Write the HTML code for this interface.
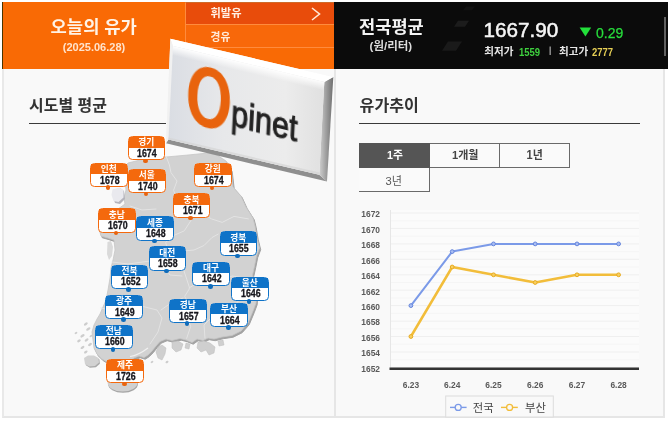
<!DOCTYPE html>
<html lang="ko"><head><meta charset="utf-8"><title>Opinet</title>
<style>
html,body{margin:0;padding:0;background:#fff;}
body{width:670px;height:421px;overflow:hidden;position:relative;font-family:"Liberation Sans",sans-serif;}
#w{position:absolute;left:0;top:0;width:670px;height:421px;overflow:hidden;filter:blur(.45px);}
#w *{position:absolute;box-sizing:border-box;}
#lp{left:2px;top:69px;width:332px;height:349px;background:#f9f9f9;border-left:2px solid #e9e9e9;border-bottom:2px solid #e6e6e6;}
#rp{left:334px;top:69px;width:331px;height:349px;background:#f9f9f9;border-left:2px solid #e6e6e6;border-right:2px solid #e6e6e6;border-bottom:2px solid #e6e6e6;}
#oh{left:2.3px;top:2px;width:332px;height:67px;background:#f96a05;border-left:1px solid #4a3500;}
#m1{left:185px;top:2px;width:149.5px;height:22.5px;background:#e84c0b;border-left:1.5px solid #ff8b3d;border-top:1px solid #cf6a2a;}
#m2{left:185px;top:24px;width:149.5px;height:23.5px;background:#f8680a;border-left:1.5px solid #ff8b3d;border-top:1.3px solid #ff8b3d;}
#m3{left:185px;top:47px;width:149.5px;height:22px;background:#f96a05;border-left:1.5px solid #ff8b3d;border-top:1.3px solid #ff8b3d;}
#bh{left:334.3px;top:2px;width:333.7px;height:67px;background:#0b0b0b;}
.date{left:40px;top:40.5px;width:108px;text-align:center;font-size:11px;font-weight:bold;color:#ffe3cc;line-height:13px;}
.big{left:483.4px;top:17px;font-size:20.7px;color:#f6f6f6;line-height:26px;-webkit-text-stroke:.5px #f6f6f6;}
.chg{left:596px;top:24.5px;font-size:14px;color:#27dc3c;line-height:16px;-webkit-text-stroke:.25px #27dc3c;}
.sm{font-size:10.8px;font-weight:bold;line-height:12px;top:45.6px;transform:scaleX(.88);transform-origin:0 0;}
.ul{height:1.4px;background:#3a3a3a;top:123px;}
.tab{height:24.6px;border:1px solid #6a6a6a;background:#fafafa;}
.tt{font-size:10.5px;font-weight:bold;line-height:12px;}
.yl{left:356px;width:24px;text-align:right;font-size:8.4px;font-weight:bold;color:#5a5a5a;line-height:10px;}
.xl{top:380px;width:24px;text-align:center;font-size:8.4px;font-weight:bold;color:#5a5a5a;line-height:10px;}
.lb{width:37.6px;height:24.4px;border-radius:4.5px;background:#fff;border:1.6px solid;}
.lb.o{border-color:#f4690d;} .lb.b{border-color:#0f73c8;}
.lb i{left:0;top:0;width:100%;height:10.5px;}
.lb.o i{background:#f4690d;} .lb.b i{background:#0f73c8;}
.lb b{left:.9px;top:10.9px;width:100%;text-align:center;font-size:10px;line-height:11px;color:#16161c;transform:scaleX(.88);-webkit-text-stroke:.3px #16161c;}
.lb u{left:14.7px;top:21.6px;width:4.6px;height:4.6px;border-radius:50%;}
.lb.o u{background:#e8640f;} .lb.b u{background:#0f6cbb;}
svg{left:0;top:0;overflow:visible;}
#slab{left:0;top:0;width:670px;height:421px;}
</style></head><body><div id="w">
<div id="lp"></div><div id="rp"></div>
<div id="oh"></div><div id="m1"></div><div id="m2"></div><div id="m3"></div>
<div id="bh"></div>
<svg width="670" height="421" viewBox="0 0 670 421">
<g fill="#1a1a1a"><path d="M466,6.5 l9,0 l-3,3.8 l-9,0z" fill="#131313"/><path d="M458,20.8 l11,0 l-4,6 l-11,0z" fill="#1c1c1c"/><path d="M448,41.6 l14,0 l-6,9.2 l-14,0z"/></g>
<path d="M312,8 l7.5,6 l-7.5,6" fill="none" stroke="#ffe9d8" stroke-width="1.6"/>
<path d="M579.6,27.6 h11.6 l-5.8,9z" fill="#22e03a"/>
<rect x="664.2" y="17" width="1.6" height="39" fill="#767676"/>
<rect x="549.6" y="46.5" width="1.1" height="8.5" fill="#bbb"/>
</svg>
<div class="date">(2025.06.28)</div>
<div class="big">1667.90</div>
<div class="chg">0.29</div>
<span class="sm" style="left:518.6px;color:#3fd13f">1559</span>
<span class="sm" style="left:592.2px;color:#e6cf55">2777</span>
<div class="ul" style="left:28.5px;width:137px"></div>
<div class="ul" style="left:358.5px;width:281px"></div>
<div class="tab" style="left:358.5px;top:143.4px;width:71.5px;background:#555;border-color:#555"></div>
<div class="tab" style="left:429.5px;top:143.4px;width:70px;border-left:none"></div>
<div class="tab" style="left:499px;top:143.4px;width:70.8px"></div>
<div class="tab" style="left:358.5px;top:167.6px;width:71px;border-left:none;border-top:none"></div>
<svg width="670" height="421" viewBox="0 0 670 421">
<rect x="390" y="210" width="249" height="158" fill="#fbfbfb"/>
<line x1="390" x2="639" y1="367.4" y2="367.4" stroke="#efefef" stroke-width="1"/>
<line x1="390" x2="639" y1="359.7" y2="359.7" stroke="#f5f5f5" stroke-width="1"/>
<line x1="390" x2="639" y1="352.0" y2="352.0" stroke="#efefef" stroke-width="1"/>
<line x1="390" x2="639" y1="344.2" y2="344.2" stroke="#f5f5f5" stroke-width="1"/>
<line x1="390" x2="639" y1="336.5" y2="336.5" stroke="#efefef" stroke-width="1"/>
<line x1="390" x2="639" y1="328.8" y2="328.8" stroke="#f5f5f5" stroke-width="1"/>
<line x1="390" x2="639" y1="321.1" y2="321.1" stroke="#efefef" stroke-width="1"/>
<line x1="390" x2="639" y1="313.4" y2="313.4" stroke="#f5f5f5" stroke-width="1"/>
<line x1="390" x2="639" y1="305.6" y2="305.6" stroke="#efefef" stroke-width="1"/>
<line x1="390" x2="639" y1="297.9" y2="297.9" stroke="#f5f5f5" stroke-width="1"/>
<line x1="390" x2="639" y1="290.2" y2="290.2" stroke="#efefef" stroke-width="1"/>
<line x1="390" x2="639" y1="282.5" y2="282.5" stroke="#f5f5f5" stroke-width="1"/>
<line x1="390" x2="639" y1="274.8" y2="274.8" stroke="#efefef" stroke-width="1"/>
<line x1="390" x2="639" y1="267.0" y2="267.0" stroke="#f5f5f5" stroke-width="1"/>
<line x1="390" x2="639" y1="259.3" y2="259.3" stroke="#efefef" stroke-width="1"/>
<line x1="390" x2="639" y1="251.6" y2="251.6" stroke="#f5f5f5" stroke-width="1"/>
<line x1="390" x2="639" y1="243.9" y2="243.9" stroke="#efefef" stroke-width="1"/>
<line x1="390" x2="639" y1="236.2" y2="236.2" stroke="#f5f5f5" stroke-width="1"/>
<line x1="390" x2="639" y1="228.4" y2="228.4" stroke="#efefef" stroke-width="1"/>
<line x1="390" x2="639" y1="220.7" y2="220.7" stroke="#f5f5f5" stroke-width="1"/>
<line x1="390" x2="639" y1="213.0" y2="213.0" stroke="#efefef" stroke-width="1"/>
<line x1="390.5" x2="390.5" y1="210" y2="368" stroke="#e6e6e6" stroke-width="1"/>
<polyline points="410.9,336.5 452.2,267.0 493.5,274.8 535.2,282.5 577.0,274.8 618.6,274.8" fill="none" stroke="#f2bd3a" stroke-width="2.5" stroke-linejoin="round"/>
<polyline points="410.9,305.6 452.2,251.6 493.5,243.9 535.2,243.9 577.0,243.9 618.6,243.9" fill="none" stroke="#7b9ae8" stroke-width="2.0" stroke-linejoin="round"/>
<circle cx="410.9" cy="336.5" r="1.9" fill="#f6cf63" stroke="#e9ab1f" stroke-width="1"/>
<circle cx="452.2" cy="267.0" r="1.9" fill="#f6cf63" stroke="#e9ab1f" stroke-width="1"/>
<circle cx="493.5" cy="274.8" r="1.9" fill="#f6cf63" stroke="#e9ab1f" stroke-width="1"/>
<circle cx="535.2" cy="282.5" r="1.9" fill="#f6cf63" stroke="#e9ab1f" stroke-width="1"/>
<circle cx="577.0" cy="274.8" r="1.9" fill="#f6cf63" stroke="#e9ab1f" stroke-width="1"/>
<circle cx="618.6" cy="274.8" r="1.9" fill="#f6cf63" stroke="#e9ab1f" stroke-width="1"/>
<circle cx="410.9" cy="305.6" r="1.9" fill="#a9bdf2" stroke="#6585dc" stroke-width="1"/>
<circle cx="452.2" cy="251.6" r="1.9" fill="#a9bdf2" stroke="#6585dc" stroke-width="1"/>
<circle cx="493.5" cy="243.9" r="1.9" fill="#a9bdf2" stroke="#6585dc" stroke-width="1"/>
<circle cx="535.2" cy="243.9" r="1.9" fill="#a9bdf2" stroke="#6585dc" stroke-width="1"/>
<circle cx="577.0" cy="243.9" r="1.9" fill="#a9bdf2" stroke="#6585dc" stroke-width="1"/>
<circle cx="618.6" cy="243.9" r="1.9" fill="#a9bdf2" stroke="#6585dc" stroke-width="1"/>
<line x1="389.5" x2="639" y1="368.7" y2="368.7" stroke="#333" stroke-width="2.6"/>
<rect x="445.7" y="396" width="107.6" height="21" fill="#f9f9f9" stroke="#dcdcdc" stroke-width="1"/>
<line x1="450" x2="466.6" y1="407.4" y2="407.4" stroke="#7b9ae8" stroke-width="1.4"/><circle cx="458.2" cy="407.4" r="3" fill="#f9f9f9" stroke="#7b9ae8" stroke-width="1.3"/>
<line x1="501" x2="517.8" y1="407.4" y2="407.4" stroke="#f2bd3a" stroke-width="1.4"/><circle cx="509.6" cy="407.4" r="3" fill="#f9f9f9" stroke="#f2bd3a" stroke-width="1.3"/>
</svg>
<span class="yl" style="top:209.3px">1672</span><span class="yl" style="top:224.7px">1670</span><span class="yl" style="top:240.2px">1668</span><span class="yl" style="top:255.6px">1666</span><span class="yl" style="top:271.0px">1664</span><span class="yl" style="top:286.5px">1662</span><span class="yl" style="top:301.9px">1660</span><span class="yl" style="top:317.3px">1658</span><span class="yl" style="top:332.7px">1656</span><span class="yl" style="top:348.2px">1654</span><span class="yl" style="top:363.6px">1652</span><span class="xl" style="left:398.9px">6.23</span><span class="xl" style="left:440.2px">6.24</span><span class="xl" style="left:481.5px">6.25</span><span class="xl" style="left:523.2px">6.26</span><span class="xl" style="left:565.0px">6.27</span><span class="xl" style="left:606.6px">6.28</span>
<svg width="670" height="421" viewBox="0 0 670 421">

<path d="M128,163 L140,160 L150,158 L166,157 L188,155 L208,153 L217,155 L226,161 L231,170 L233,187 L241,196 L246,207 L253,218 L255,226 L257,238 L259.5,248 L256.5,256 L254.5,266 L252.5,275 L255,285 L256.5,296 L256,303 L253,311 L248,323 L241,331 L232,335.5 L222,337 L214,339 L208,338 L203,340.5 L197,339 L192,342.5 L186,340 L180,338.5 L172,340.5 L166,339 L160,341.5 L156,346 L152,351 L148,355 L144,357.5 L139,356 L134,358 L130,361 L124,364 L116,364 L108,362.5 L102,359 L97,354 L94,348 L93,340 L92,332 L94,325 L97,319 L100,314 L103,307 L106,300 L108,290 L110,278 L111,268 L113,260 L115,250 L114,240 L108,238 L101,236 L99,229 L102,222 L108,214 L118,209 L125,204 L124,198 L126,190 L125,180 L122,170Z" fill="#a3a3a3" transform="translate(1.2,1.7)" stroke="#a3a3a3" stroke-width="1" stroke-linejoin="round"/>
<path d="M128,163 L140,160 L150,158 L166,157 L188,155 L208,153 L217,155 L226,161 L231,170 L233,187 L241,196 L246,207 L253,218 L255,226 L257,238 L259.5,248 L256.5,256 L254.5,266 L252.5,275 L255,285 L256.5,296 L256,303 L253,311 L248,323 L241,331 L232,335.5 L222,337 L214,339 L208,338 L203,340.5 L197,339 L192,342.5 L186,340 L180,338.5 L172,340.5 L166,339 L160,341.5 L156,346 L152,351 L148,355 L144,357.5 L139,356 L134,358 L130,361 L124,364 L116,364 L108,362.5 L102,359 L97,354 L94,348 L93,340 L92,332 L94,325 L97,319 L100,314 L103,307 L106,300 L108,290 L110,278 L111,268 L113,260 L115,250 L114,240 L108,238 L101,236 L99,229 L102,222 L108,214 L118,209 L125,204 L124,198 L126,190 L125,180 L122,170Z" fill="#d2d2d2" stroke="#c6c6c6" stroke-width="0.8" stroke-linejoin="round"/>
<ellipse cx="123" cy="383.8" rx="15" ry="9" fill="#a5a5a5"/>
<ellipse cx="122.6" cy="382.6" rx="15" ry="9" fill="#d0d0d0"/>
<path d="M84,358 L88,355.5 L94,355.5 L98.5,358 L99,362.5 L95,366 L89,366.5 L85,364Z" fill="#a9a9a9" transform="translate(0.9,1.3)"/>
<path d="M84,358 L88,355.5 L94,355.5 L98.5,358 L99,362.5 L95,366 L89,366.5 L85,364Z" fill="#d2d2d2"/>
<path d="M107.5,242 l3.5,-1 l2,6 l-1,9 l-3,4 l-2,-6z" fill="#dadada"/>
<path d="M113,190 l7,-2 l4,3 l1,8 l-5,5 l-5,-1 l-2,-6z" fill="#b4b4bc"/>
<path d="M112.5,189.5 l7,-2 l4,3 l0,7 l-5,4.5 l-5,-1 l-2,-6z" fill="#e9e9ee"/>
<g fill="#cfcfcf" stroke="#bdbdbd" stroke-width=".5"><path d="M158,347 L162,345 L166,348 L165,354 L162,360 L158,358 L156,352Z"/><path d="M172,342 L178,341 L183,344 L181,350 L176,352 L172,348Z"/><path d="M198,342 L204,341 L210,343 L215,347 L214,353 L209,355 L206,350 L201,352 L197,348Z"/><path d="M186,343 L190,344 L189,349 L185,348Z"/><path d="M218,341 L223,340 L224,345 L219,346Z"/></g>
<g fill="#cdcdcd"><ellipse cx="85.8" cy="324" rx="2.2" ry="1.2" transform="rotate(-35 85.8 324)"/><ellipse cx="88.3" cy="329" rx="2.4" ry="1.3" transform="rotate(-35 88.3 329)"/><ellipse cx="82.5" cy="335.8" rx="2.4" ry="1.3" transform="rotate(-35 82.5 335.8)"/><ellipse cx="79" cy="340.8" rx="2.0" ry="1.2" transform="rotate(-35 79 340.8)"/><ellipse cx="86.6" cy="340" rx="2.2" ry="1.2" transform="rotate(-35 86.6 340)"/><ellipse cx="90" cy="344.5" rx="2.2" ry="1.3" transform="rotate(-35 90 344.5)"/><ellipse cx="82.5" cy="347.4" rx="2.2" ry="1.2" transform="rotate(-35 82.5 347.4)"/><ellipse cx="85.8" cy="352" rx="2" ry="1.2" transform="rotate(-35 85.8 352)"/><ellipse cx="91" cy="336" rx="1.6" ry="1" transform="rotate(-35 91 336)"/><ellipse cx="76" cy="333" rx="1.5" ry="1" transform="rotate(-35 76 333)"/><ellipse cx="167" cy="362" rx="1.6" ry="1.1" transform="rotate(-35 167 362)"/><ellipse cx="152" cy="362" rx="1.5" ry="1" transform="rotate(-35 152 362)"/></g>
<path d="M130,356.5 q8,-1 18,-8.5" fill="none" stroke="#f0f0f0" stroke-width="1.2"/>
<g fill="none" stroke="#e3e3e3" stroke-width="1" stroke-linejoin="round" stroke-linecap="round">
<path d="M166.4,157 l3,8 l1.6,7.6 l6,8.4 l-3.5,9.4 l4,8 l12,3 l8,9 l14,8.5 l10.7,3.5 l11.8,-6 l14.4,2.5"/>
<path d="M191.3,220 l-7,10.8 l-10.8,4.8 l-8,7 l4,10"/>
<path d="M130,206 l12,4 l14,-1"/>
<path d="M184,251 l10,-1 l10,-4.5 l8,-8 l6.2,-3.4"/>
<path d="M184,252 l-3,10 l4,12 l4.7,14.3 l-5,8 l5,10 l-3,10 l4,10 l-4,12"/>
<path d="M112,262 l16,2 l22,-3 l14,5 l6,9 l12,1"/>
<path d="M101,308 l18,4 l22,-6 l16,4 l5,8 l-4,14 l-8,12"/>
<path d="M189,288 l13,-8 l16,2 l14,-6 l20,3"/>
<path d="M205,338 l-1,-13 l10,-10 l16,-4 l10,-12 l13,2"/>
<path d="M161,310 l10,-7 l12,-5"/>
</g>

</svg>
<div class="lb o" style="left:127.5px;top:136px"><i></i><b>1674</b><u></u></div><div class="lb o" style="left:90px;top:162.8px"><i></i><b>1678</b><u></u></div><div class="lb o" style="left:128px;top:169px"><i></i><b>1740</b><u></u></div><div class="lb o" style="left:194px;top:163px"><i></i><b>1674</b><u></u></div><div class="lb o" style="left:172.8px;top:193.3px"><i></i><b>1671</b><u></u></div><div class="lb o" style="left:98px;top:208.2px"><i></i><b>1670</b><u></u></div><div class="lb b" style="left:136.3px;top:216.2px"><i></i><b>1648</b><u></u></div><div class="lb b" style="left:219.5px;top:231.3px"><i></i><b>1655</b><u></u></div><div class="lb b" style="left:148.5px;top:246.2px"><i></i><b>1658</b><u></u></div><div class="lb b" style="left:192.4px;top:261.6px"><i></i><b>1642</b><u></u></div><div class="lb b" style="left:110.8px;top:264.6px"><i></i><b>1652</b><u></u></div><div class="lb b" style="left:231.1px;top:276.6px"><i></i><b>1646</b><u></u></div><div class="lb b" style="left:105.3px;top:294.8px"><i></i><b>1649</b><u></u></div><div class="lb b" style="left:169.1px;top:298.7px"><i></i><b>1657</b><u></u></div><div class="lb b" style="left:210.3px;top:302.9px"><i></i><b>1664</b><u></u></div><div class="lb b" style="left:95px;top:324.6px"><i></i><b>1660</b><u></u></div><div class="lb o" style="left:106.4px;top:359px"><i></i><b>1726</b><u></u></div>

<svg width="670" height="421" viewBox="0 0 670 421">
<defs>
<linearGradient id="gf" x1="0" y1="0" x2="1" y2="0"><stop offset="0" stop-color="#dadde3"/><stop offset=".35" stop-color="#e7e8ea"/><stop offset=".75" stop-color="#ececec"/><stop offset="1" stop-color="#e0e0e0"/></linearGradient>
<linearGradient id="gr" x1="0" y1="0" x2="1" y2="0"><stop offset="0" stop-color="#cfcfcf"/><stop offset=".45" stop-color="#a2a2a2"/><stop offset="1" stop-color="#6e6e6e"/></linearGradient>
<linearGradient id="gb" x1="0" y1="0" x2="0.12" y2="1"><stop offset="0" stop-color="#b4b4b4"/><stop offset="1" stop-color="#7d7d7d"/></linearGradient>
<linearGradient id="gt" gradientUnits="userSpaceOnUse" x1="173" y1="46" x2="170.9" y2="55"><stop offset="0" stop-color="#fff" stop-opacity="1"/><stop offset="1" stop-color="#fff" stop-opacity="0"/></linearGradient>
<filter id="bl" x="-10%" y="-10%" width="120%" height="120%"><feGaussianBlur stdDeviation="0.7"/></filter>
<filter id="bl2" x="-10%" y="-10%" width="120%" height="120%"><feGaussianBlur stdDeviation="0.55"/></filter>
</defs>
<polygon points="170.4,38.8 333.3,77 326,150 319.3,174.8 168.4,139.6 166,143.3" fill="#f4f4f4"/>
<polygon points="166,143.3 327,181.6 319.3,174.8 168.4,139.6" fill="#8f8f8f"/>
<polygon points="333.3,77 327,181.6 319.3,174.8 324.3,82.1" fill="url(#gr)"/>
<polygon points="170.4,38.8 333.3,77 324.3,82.1 173,46" fill="#ffffff"/>
<polygon points="170.4,38.8 173,46 168.4,139.6 166,143.3" fill="#f1f1f1"/>
<polygon points="173,46 324.3,82.1 319.3,174.8 168.4,139.6" fill="url(#gf)"/>
<polygon points="168.4,139.6 319.3,174.8 319.6,172.6 168.5,137.6" fill="#d4d4d4" opacity=".7"/>
<polygon points="173,46 324.3,82.1 323.7,93 172.4,57" fill="url(#gt)"/>
<g transform="matrix(1,0.237,-0.05,1,209.1,97.7)" filter="url(#bl)">
<path fill="#e8640c" d="M-20.8,0 C-20.8,-18.18 -12.48,-30.3 0,-30.3 C12.48,-30.3 20.8,-18.18 20.8,0 C20.8,18.18 12.48,30.3 0,30.3 C-12.48,30.3 -20.8,18.18 -20.8,0Z M-11.7,0 C-11.7,13.21 -7.25,21.3 0,21.3 C7.25,21.3 11.7,13.21 11.7,0 C11.7,-13.21 7.25,-21.3 0,-21.3 C-7.25,-21.3 -11.7,-13.21 -11.7,0Z"/>
</g>
<text transform="matrix(0.825,0.202,-0.05,1,230.7,125.5)" font-family="Liberation Sans, sans-serif" font-size="37" fill="#222" stroke="#222" stroke-width="1.1" filter="url(#bl2)">pinet</text>
</svg>

<svg width="670" height="421" viewBox="0 0 670 421" font-family="&quot;Liberation Sans&quot;, &quot;Noto Sans CJK KR&quot;, sans-serif" font-weight="bold">
<text x="50.6" y="33.4" font-size="17.4" fill="#fff3e6" textLength="86.3" lengthAdjust="spacingAndGlyphs">오늘의 유가</text>
<text x="210.5" y="17.4" font-size="11.2" fill="#fff0e4" textLength="31" lengthAdjust="spacingAndGlyphs">휘발유</text>
<text x="210.5" y="40.9" font-size="11" fill="#ffe9d8" textLength="19.8" lengthAdjust="spacingAndGlyphs">경유</text>
<text x="359" y="33.4" font-size="17.5" fill="#f4f4f4" textLength="64.8" lengthAdjust="spacingAndGlyphs">전국평균</text>
<text x="29.1" y="110.6" font-size="15.8" fill="#333" textLength="77.9" lengthAdjust="spacingAndGlyphs">시도별 평균</text>
<text x="359.6" y="110.6" font-size="16.3" fill="#333" textLength="59.2" lengthAdjust="spacingAndGlyphs">유가추이</text>
<g fill="#fff" font-size="8.8">
<text x="138.2" y="145.4" textLength="16" lengthAdjust="spacingAndGlyphs">경기</text>
<text x="100.7" y="172.2" textLength="16" lengthAdjust="spacingAndGlyphs">인천</text>
<text x="138.7" y="178.4" textLength="16" lengthAdjust="spacingAndGlyphs">서울</text>
<text x="204.7" y="172.4" textLength="16" lengthAdjust="spacingAndGlyphs">강원</text>
<text x="183.5" y="202.7" textLength="16" lengthAdjust="spacingAndGlyphs">충북</text>
<text x="108.7" y="217.6" textLength="16" lengthAdjust="spacingAndGlyphs">충남</text>
<text x="147" y="225.6" textLength="16" lengthAdjust="spacingAndGlyphs">세종</text>
<text x="230.2" y="240.7" textLength="16" lengthAdjust="spacingAndGlyphs">경북</text>
<text x="159.2" y="255.6" textLength="16" lengthAdjust="spacingAndGlyphs">대전</text>
<text x="203.1" y="271" textLength="16" lengthAdjust="spacingAndGlyphs">대구</text>
<text x="121.5" y="274" textLength="16" lengthAdjust="spacingAndGlyphs">전북</text>
<text x="241.8" y="286" textLength="16" lengthAdjust="spacingAndGlyphs">울산</text>
<text x="116" y="304.2" textLength="16" lengthAdjust="spacingAndGlyphs">광주</text>
<text x="179.8" y="308.1" textLength="16" lengthAdjust="spacingAndGlyphs">경남</text>
<text x="221" y="312.3" textLength="16" lengthAdjust="spacingAndGlyphs">부산</text>
<text x="105.7" y="334" textLength="16" lengthAdjust="spacingAndGlyphs">전남</text>
<text x="117.1" y="368.4" textLength="16" lengthAdjust="spacingAndGlyphs">제주</text>
</g>
<text x="369.6" y="50.4" font-size="11.2" fill="#dcdcdc" textLength="42.6" lengthAdjust="spacingAndGlyphs">(원/리터)</text>
<text x="386.9" y="159.3" font-size="11.2" fill="#fff" textLength="15.9" lengthAdjust="spacingAndGlyphs">1주</text>
<text x="452" y="159.3" font-size="11.6" fill="#444" textLength="26.5" lengthAdjust="spacingAndGlyphs">1개월</text>
<text x="526.6" y="159.4" font-size="11.9" fill="#444" textLength="16.2" lengthAdjust="spacingAndGlyphs">1년</text>
<text x="385.6" y="184.6" font-size="11.7" fill="#555" font-weight="normal" textLength="16.4" lengthAdjust="spacingAndGlyphs">3년</text>
<text x="484.2" y="55.2" font-size="10.5" fill="#e6e6e6" textLength="29.2" lengthAdjust="spacingAndGlyphs">최저가</text>
<text x="559" y="55.2" font-size="10.5" fill="#e6e6e6" textLength="29.2" lengthAdjust="spacingAndGlyphs">최고가</text>
<text x="472.8" y="411.5" font-size="11.8" fill="#444" font-weight="normal" textLength="20.9" lengthAdjust="spacingAndGlyphs">전국</text>
<text x="525.1" y="411.5" font-size="11.4" fill="#444" font-weight="normal" textLength="20.9" lengthAdjust="spacingAndGlyphs">부산</text>
</svg>
</div></body></html>
